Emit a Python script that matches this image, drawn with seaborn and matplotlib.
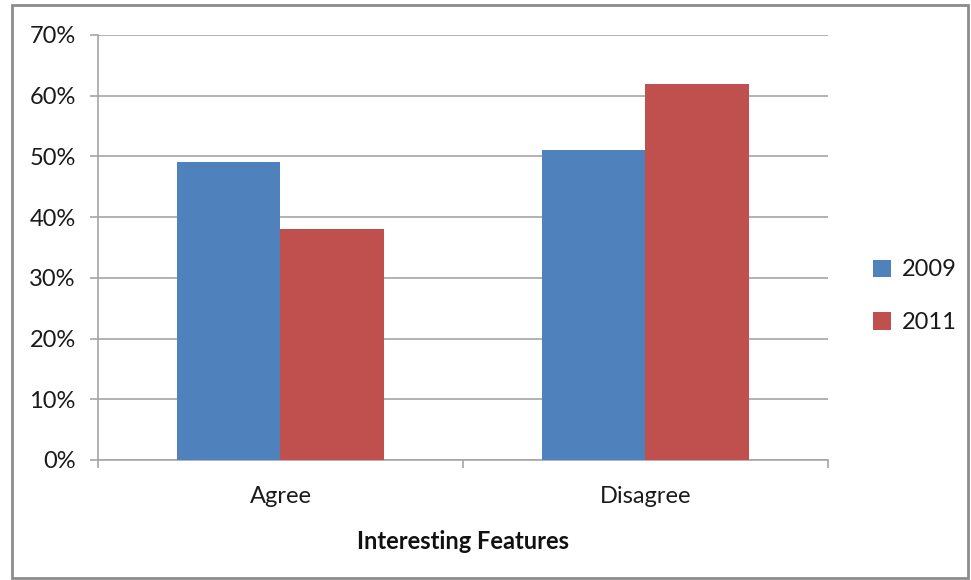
import numpy as np
import pandas as pd
import matplotlib
matplotlib.use("Agg")
import matplotlib.pyplot as plt
import seaborn as sns
from matplotlib.patches import Rectangle
from matplotlib.ticker import FixedLocator

# data
categories = ["Agree", "Disagree"]
years = ["2009", "2011"]
values_2009 = [49, 51]
values_2011 = [38, 62]
y_ticks = [0, 10, 20, 30, 40, 50, 60, 70]

df = pd.DataFrame({
    "category": categories * 2,
    "year": [years[0]] * len(categories) + [years[1]] * len(categories),
    "value": values_2009 + values_2011,
})

sns.set_style("white")
plt.rcParams["font.family"] = ["Lato", "DejaVu Sans"]

fig = plt.figure(figsize=(9.71, 5.80), dpi=100)
ax = fig.add_axes([0.1009, 0.2069, 0.7518, 0.7328])

sns.barplot(data=df, x="category", y="value", hue="year",
            palette=["#4F81BD", "#C0504D"], width=0.567,
            saturation=1, linewidth=0, ax=ax, zorder=3)

ax.set_xlim(-0.5, 1.5)
ax.set_ylim(0, 70)
ax.set_yticks(y_ticks)
ax.set_yticklabels([f"{t}%" for t in y_ticks], fontsize=17, color="#1a1a1a")
ax.yaxis.grid(True, color="#A6A6A6", linewidth=1.2, zorder=0)
ax.set_axisbelow(True)

for side in ["top", "right"]:
    ax.spines[side].set_visible(False)
for side in ["left", "bottom"]:
    ax.spines[side].set_color("#A6A6A6")
    ax.spines[side].set_linewidth(1.2)

ax.tick_params(axis="y", length=6, width=1.2, color="#A6A6A6", left=True, pad=10)
ax.tick_params(axis="x", which="major", length=0, pad=19, labelsize=17,
               labelcolor="#1a1a1a")
ax.xaxis.set_minor_locator(FixedLocator([-0.5, 0.5, 1.5]))
ax.tick_params(axis="x", which="minor", length=6, width=1.2, color="#A6A6A6",
               bottom=True)

ax.set_xlabel("Interesting Features", fontsize=17, fontweight="bold",
              labelpad=16, color="#111111")
ax.set_ylabel("")

leg = ax.legend(loc="center left", bbox_to_anchor=(1.033, 0.385), frameon=False,
                fontsize=17, handlelength=0.75, handleheight=0.75,
                handletextpad=0.45, labelspacing=1.35)
for t in leg.get_texts():
    t.set_color("#1a1a1a")

# outer chart frame
fig.patches.append(Rectangle((0.0124, 0.0034), 0.985, 0.988,
                             transform=fig.transFigure, fill=False,
                             edgecolor="#8C8C8C", linewidth=2))

fig.savefig("out.png", dpi=100)
